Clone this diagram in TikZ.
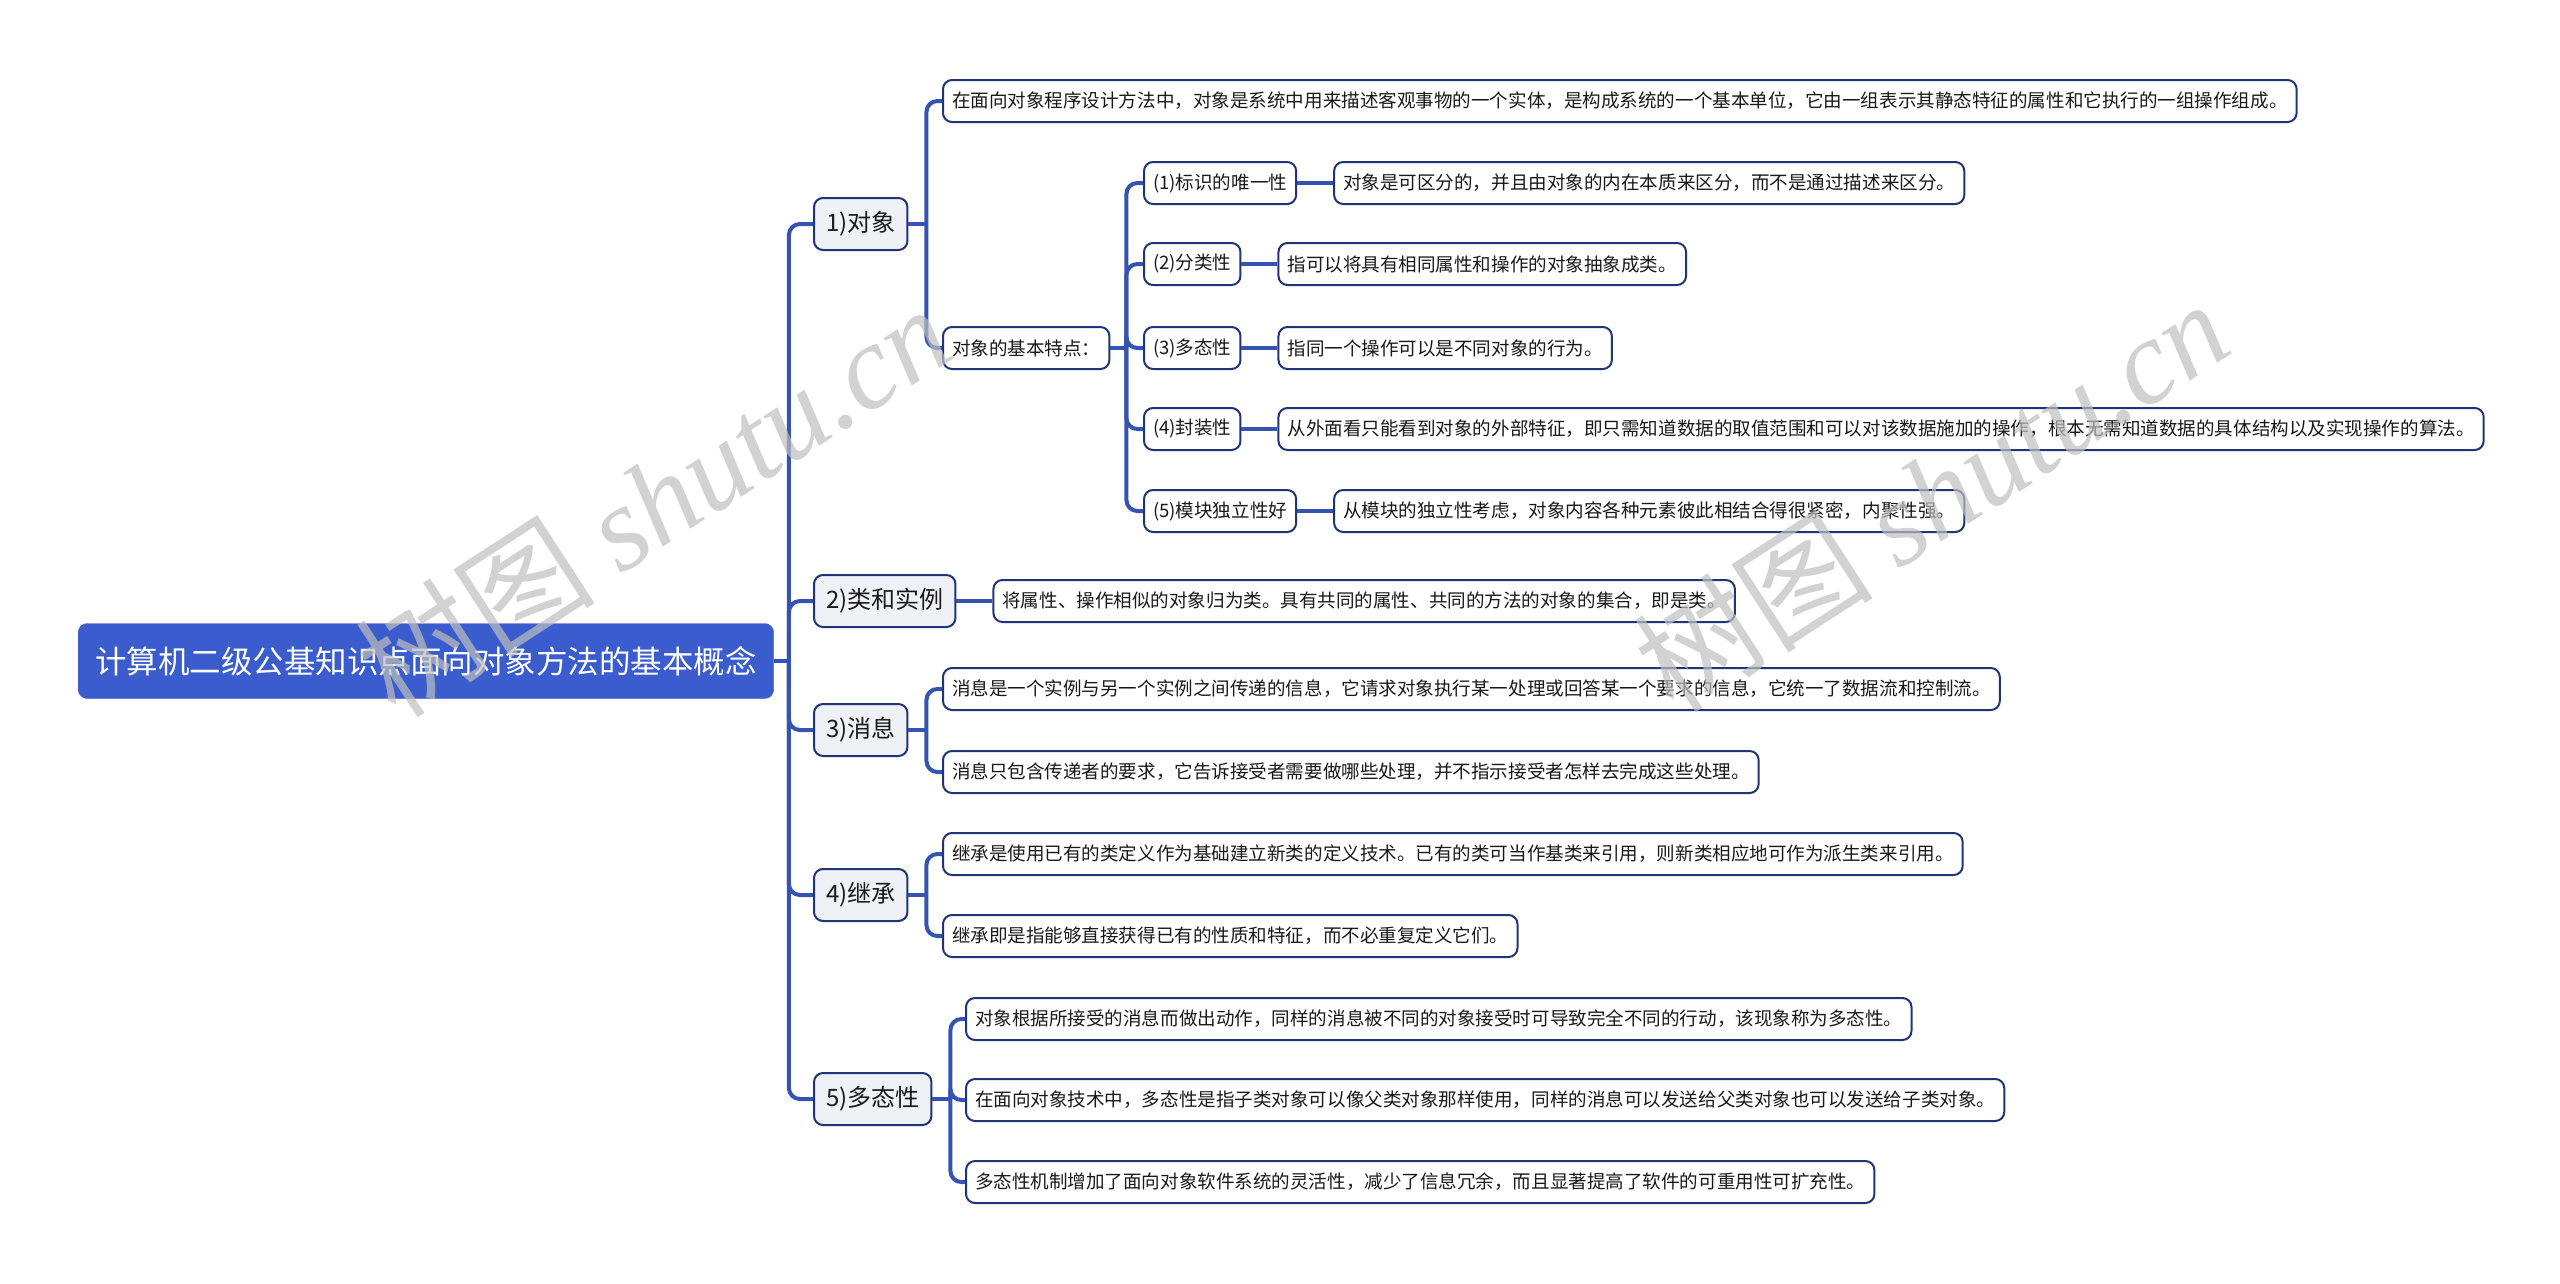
\documentclass[tikz,border=0pt]{standalone}
\usepackage{fontspec}
\setmainfont{Noto Sans CJK SC}
\newfontfamily\wmlatin{Liberation Serif}
\usetikzlibrary{positioning}

\definecolor{rootblue}{HTML}{3A5CCC}
\definecolor{linkblue}{HTML}{3553B0}
\definecolor{edgeblue}{HTML}{1F3577}
\definecolor{topicfill}{HTML}{EEF2F7}

\tikzset{
  rootbox/.style={draw=rootblue, fill=rootblue, text=white, rounded corners=9pt, minimum height=75pt, inner xsep=17pt, anchor=west, font=\fontsize{31.5pt}{36pt}\selectfont},
  topicbox/.style={draw=edgeblue, line width=2pt, fill=topicfill, text=black!90, rounded corners=9pt, minimum height=52pt, inner xsep=12pt, anchor=west, font=\fontsize{24pt}{28pt}\selectfont},
  notebox/.style={draw=edgeblue, line width=2pt, fill=white, text=black!90, rounded corners=9pt, minimum height=42pt, inner xsep=9pt, anchor=west, font=\fontsize{18.55pt}{22pt}\selectfont},
  link/.style={draw=linkblue, line width=4pt, rounded corners=11pt},
  wmark/.style={text=black!25, opacity=0.7, rotate=33, font=\fontsize{120pt}{120pt}\selectfont}
}

\begin{document}
\begin{tikzpicture}[x=1pt, y=-1pt]

\useasboundingbox[fill=white] (0,0) rectangle (2560,1283);

\node[rootbox] (root) at (78,661) {计算机二级公基知识点面向对象方法的基本概念};

\node[topicbox] (obj) at (813,224) {1)对象};
\node[topicbox] (cls) at (813,601) {2)类和实例};
\node[topicbox] (msg) at (813,730) {3)消息};
\node[topicbox] (inh) at (813,895) {4)继承};
\node[topicbox] (poly) at (813,1099) {5)多态性};

\node[notebox] (def) at (942,101) {在面向对象程序设计方法中，对象是系统中用来描述客观事物的一个实体，是构成系统的一个基本单位，它由一组表示其静态特征的属性和它执行的一组操作组成。};
\node[notebox] (feat) at (942,348) {对象的基本特点：};

\node[notebox] (p1) at (1143,183) {(1)标识的唯一性};
\node[notebox] (p2) at (1143,264) {(2)分类性};
\node[notebox] (p3) at (1143,348) {(3)多态性};
\node[notebox] (p4) at (1143,429) {(4)封装性};
\node[notebox] (p5) at (1143,511) {(5)模块独立性好};

\node[notebox, right=36pt of p1] (q1) {对象是可区分的，并且由对象的内在本质来区分，而不是通过描述来区分。};
\node[notebox, right=36pt of p2] (q2) {指可以将具有相同属性和操作的对象抽象成类。};
\node[notebox, right=36pt of p3] (q3) {指同一个操作可以是不同对象的行为。};
\node[notebox, right=36pt of p4] (q4) {从外面看只能看到对象的外部特征，即只需知道数据的取值范围和可以对该数据施加的操作，根本无需知道数据的具体结构以及实现操作的算法。};
\node[notebox, right=36pt of p5] (q5) {从模块的独立性考虑，对象内容各种元素彼此相结合得很紧密，内聚性强。};

\node[notebox, right=36pt of cls] (c1) {将属性、操作相似的对象归为类。具有共同的属性、共同的方法的对象的集合，即是类。};

\node[notebox] (m1) at (942,689) {消息是一个实例与另一个实例之间传递的信息，它请求对象执行某一处理或回答某一个要求的信息，它统一了数据流和控制流。};
\node[notebox] (m2) at (942,772) {消息只包含传递者的要求，它告诉接受者需要做哪些处理，并不指示接受者怎样去完成这些处理。};

\node[notebox] (h1) at (942,854) {继承是使用已有的类定义作为基础建立新类的定义技术。已有的类可当作基类来引用，则新类相应地可作为派生类来引用。};
\node[notebox] (h2) at (942,936) {继承即是指能够直接获得已有的性质和特征，而不必重复定义它们。};

\node[notebox] (y1) at (965,1019) {对象根据所接受的消息而做出动作，同样的消息被不同的对象接受时可导致完全不同的行动，该现象称为多态性。};
\node[notebox] (y2) at (965,1100) {在面向对象技术中，多态性是指子类对象可以像父类对象那样使用，同样的消息可以发送给父类对象也可以发送给子类对象。};
\node[notebox] (y3) at (965,1182) {多态性机制增加了面向对象软件系统的灵活性，减少了信息冗余，而且显著提高了软件的可重用性可扩充性。};

\draw[link] (root.east) -- ++(15,0) coordinate (r0);
\foreach \n in {obj,cls,msg,inh,poly} \draw[link] (r0) |- (\n.west);

\draw[link] (obj.east) -- ++(18,0) coordinate (o0);
\foreach \n in {def,feat} \draw[link] (o0) |- (\n.west);

\draw[link] (feat.east) -- ++(16,0) coordinate (f0);
\foreach \i in {1,...,5} {
  \draw[link] (f0) |- (p\i.west);
  \draw[link] (p\i.east) -- (q\i.west);
}

\draw[link] (cls.east) -- (c1.west);

\draw[link] (msg.east) -- ++(18,0) coordinate (s0);
\foreach \n in {m1,m2} \draw[link] (s0) |- (\n.west);

\draw[link] (inh.east) -- ++(18,0) coordinate (i0);
\foreach \n in {h1,h2} \draw[link] (i0) |- (\n.west);

\draw[link] (poly.east) -- ++(18,0) coordinate (y0);
\foreach \n in {y1,y2,y3} \draw[link] (y0) |- (\n.west);

\node[wmark] (wm1) at (653,500) {树图 {\wmlatin\itshape shutu.cn}};
\node[wmark] (wm2) at (1931,495) {树图 {\wmlatin\itshape shutu.cn}};

\end{tikzpicture}
\end{document}
